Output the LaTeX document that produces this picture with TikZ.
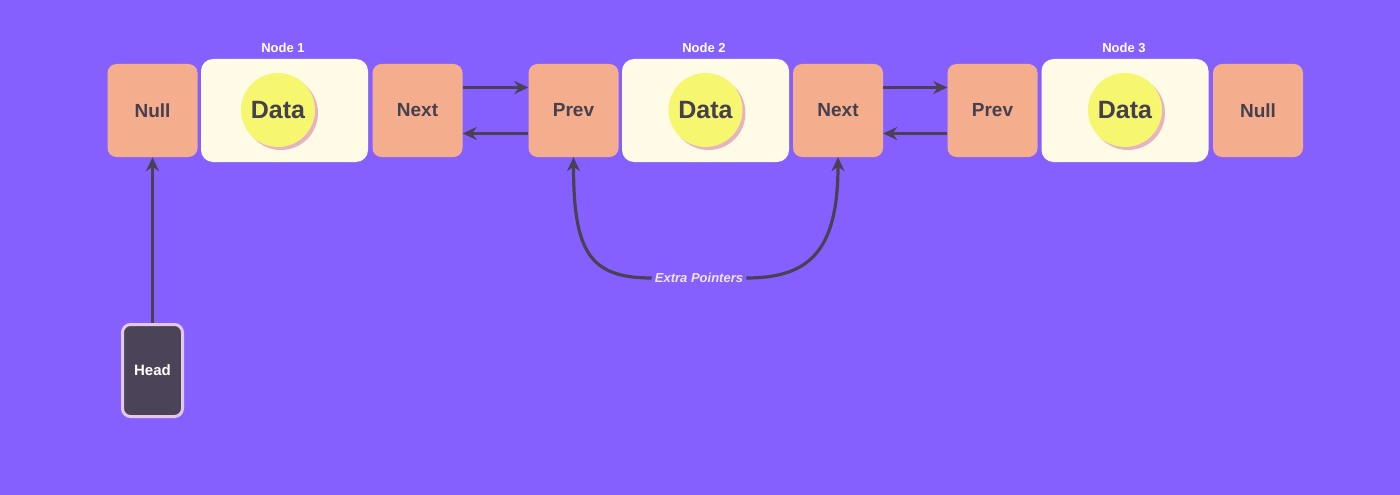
\documentclass[tikz,border=0pt]{standalone}
\usepackage{fontspec}
\setmainfont{Liberation Sans}
\usetikzlibrary{arrows.meta}
\definecolor{bgc}{HTML}{8560FF}
\definecolor{salmon}{HTML}{F4AE8E}
\definecolor{cream}{HTML}{FFFBE6}
\definecolor{yel}{HTML}{F7F76F}
\definecolor{pinkshadow}{HTML}{E6B3C3}
\definecolor{darktxt}{HTML}{453F4E}
\definecolor{linec}{HTML}{4A4254}
\definecolor{headfill}{HTML}{4B4459}
\definecolor{headborder}{HTML}{E5C8E6}
\definecolor{lbl}{HTML}{F2E2F2}
\tikzset{
  ptrbox/.style={fill=salmon, draw=none, rounded corners=9pt, minimum width=90pt, minimum height=93pt, inner sep=0pt, text=darktxt, font=\bfseries\fontsize{19}{19}\selectfont},
  databox/.style={fill=cream, draw=none, rounded corners=12pt, minimum width=167pt, minimum height=103pt, inner sep=0pt},
  datacirc/.style={circle, fill=yel, minimum size=74pt, inner sep=0pt, text=darktxt, font=\bfseries\fontsize{25}{25}\selectfont},
  shadowcirc/.style={circle, fill=pinkshadow, minimum size=74pt, inner sep=0pt},
  nodelbl/.style={text=white, font=\bfseries\fontsize{13}{13}\selectfont},
  arr/.style={draw=linec, line width=3.2pt, -{Stealth[length=14pt,width=13pt]}},
  headbox/.style={fill=headfill, draw=headborder, line width=3pt, rounded corners=8pt, minimum width=60pt, minimum height=92pt, inner sep=0pt, text=white, font=\bfseries\fontsize{15}{15}\selectfont}
}
\begin{document}
\begin{tikzpicture}[x=1pt,y=-1pt]
\fill[bgc] (0,0) rectangle (1400,495);
\useasboundingbox (0,0) rectangle (1400,495);

% Node 1
\node[ptrbox] (null1) at (152.5,110.5) {Null};
\node[databox] (data1) at (284.5,110.5) {};
\node[shadowcirc] at (281,113) {};
\node[datacirc] (c1) at (278,110) {Data};
\node[ptrbox] (next1) at (417.5,110.5) {Next};
\node[nodelbl] (lbl1) at (283,48) {Node 1};

% Node 2
\node[ptrbox] (prev2) at (573.5,110.5) {Prev};
\node[databox] (data2) at (705.5,110.5) {};
\node[shadowcirc] at (708.5,113) {};
\node[datacirc] (c2) at (705.5,110) {Data};
\node[ptrbox] (next2) at (838,110.5) {Next};
\node[nodelbl] (lbl2) at (704,48) {Node 2};

% Node 3
\node[ptrbox] (prev3) at (992.5,110.5) {Prev};
\node[databox] (data3) at (1125,110.5) {};
\node[shadowcirc] at (1128,113) {};
\node[datacirc] (c3) at (1125,110) {Data};
\node[ptrbox] (null3) at (1258,110.5) {Null};
\node[nodelbl] (lbl3) at (1124,48) {Node 3};

% links
\draw[arr] ([yshift=23pt]next1.east) -- ([yshift=23pt]prev2.west);
\draw[arr] ([yshift=-23pt]prev2.west) -- ([yshift=-23pt]next1.east);
\draw[arr] ([yshift=23pt]next2.east) -- ([yshift=23pt]prev3.west);
\draw[arr] ([yshift=-23pt]prev3.west) -- ([yshift=-23pt]next2.east);

% Head
\node[headbox] (head) at (152.5,370.5) {Head};
\draw[arr] (head.north) -- (null1.south);

% Extra pointers
\node[text=lbl, font=\bfseries\itshape\fontsize{13}{13}\selectfont, inner sep=3pt] (ep) at (699,278) {Extra Pointers};
\draw[arr] (ep.west) .. controls +(-62,0) and +(0,95) .. (prev2.south);
\draw[arr] (ep.east) .. controls +(62,0) and +(0,95) .. (next2.south);
\end{tikzpicture}
\end{document}
